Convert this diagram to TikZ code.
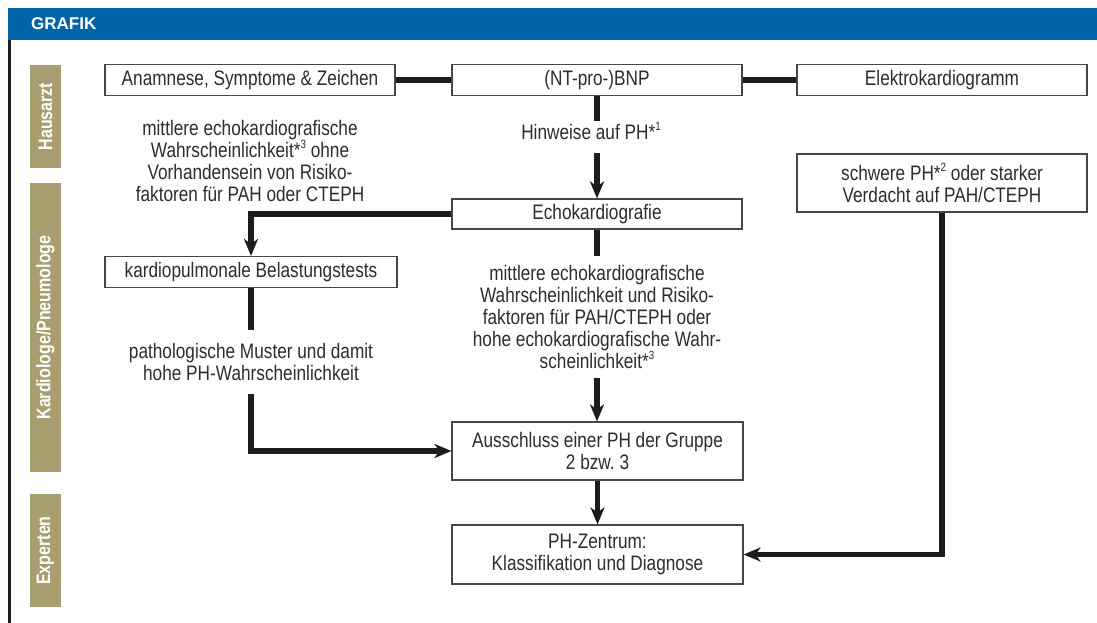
\documentclass[tikz,border=0pt]{standalone}
\usepackage{fontspec}
\setmainfont{Liberation Sans}[FakeStretch=0.82]
\newfontfamily\hdrfont{Liberation Sans}
\usetikzlibrary{arrows.meta}
\definecolor{hdrblue}{RGB}{0,101,168}
\definecolor{sidetan}{RGB}{169,158,111}
\definecolor{txt}{RGB}{45,45,45}
\definecolor{boxline}{RGB}{70,70,70}
\definecolor{connc}{RGB}{28,28,28}
\newcommand\mysup[1]{\raisebox{9pt}{\fontsize{12}{12}\selectfont #1}}
\begin{document}
\begin{tikzpicture}[x=1pt,y=-1pt,
  every node/.style={font=\fontsize{21}{22}\selectfont, text=txt},
  box/.style={draw=boxline, line width=1.1pt, fill=white, align=center, inner sep=0pt},
  conn/.style={draw=connc, line width=5.5pt},
  arr/.style={conn, -{Stealth[length=17pt,width=14pt,inset=5pt]}},
  lbl/.style={align=center, inner xsep=0pt},
  side/.style={fill=sidetan, inner sep=0pt, rotate=90, text=white,
    font=\fontsize{19.5}{19.5}\selectfont\bfseries}
]
\useasboundingbox (0,0) rectangle (1097,623);
\fill[white] (0,0) rectangle (1097,623);
% header
\fill[hdrblue] (8,8) rectangle (1097,40);
\node[anchor=west, text=white, font=\hdrfont\fontsize{17}{17}\selectfont\bfseries, inner sep=0pt] (hdr) at (31,23.5) {GRAFIK};
\draw[connc, line width=2.5pt] (9.7,40) -- (9.7,623);
% side labels
\node[side, minimum width=103pt, minimum height=31pt] (hausarzt) at (45.5,116.5) {Hausarzt};
\node[side, minimum width=289pt, minimum height=31pt] (kardio) at (45.5,327.5) {Kardiologe/Pneumologe};
\node[side, minimum width=113pt, minimum height=31pt] (experten) at (45.5,550.5) {Experten};
% boxes
\node[box, minimum width=290pt, minimum height=31pt] (anam) at (250,80) {Anamnese, Symptome \& Zeichen};
\node[box, minimum width=290pt, minimum height=31pt] (bnp) at (597,80) {(NT-pro-)BNP};
\node[box, minimum width=290pt, minimum height=31pt] (ekg) at (942,80) {Elektrokardiogramm};
\node[box, minimum width=290pt, minimum height=30pt] (echo) at (597,214) {Echokardiografie};
\node[box, minimum width=290pt, minimum height=58pt] (schwere) at (942,183) {schwere PH*\mysup{2} oder starker\\Verdacht auf PAH/CTEPH};
\node[box, minimum width=292pt, minimum height=31pt] (kp) at (251,272) {kardiopulmonale Belastungstests};
\node[box, minimum width=291pt, minimum height=58pt] (aus) at (597.5,451) {Ausschluss einer PH der Gruppe\\2 bzw.\ 3};
\node[box, minimum width=291pt, minimum height=59pt] (zen) at (597.5,554.5) {PH-Zentrum:\\Klassifikation und Diagnose};
% labels
\node[lbl, inner ysep=1pt] (hin) at (591,131) {Hinweise auf PH*\mysup{1}};
\node[lbl] (left) at (250,160.5) {mittlere echokardiografische\\Wahrscheinlichkeit*\mysup{3} ohne\\Vorhandensein von Risiko-\\faktoren f\"ur PAH oder CTEPH};
\node[lbl, inner ysep=9pt] (mid) at (597,317) {mittlere echokardiografische\\Wahrscheinlichkeit und Risiko-\\faktoren f\"ur PAH/CTEPH oder\\hohe echokardiografische Wahr-\\scheinlichkeit*\mysup{3}};
\node[lbl, inner ysep=13pt] (plabel) at (251,362) {pathologische Muster und damit\\hohe PH-Wahrscheinlichkeit};
% connectors
\draw[conn] (anam) -- (bnp);
\draw[conn] (bnp) -- (ekg);
\draw[conn] (bnp.south) -- (bnp.south |- hin.north);
\draw[arr, shorten <=12pt] (bnp.south |- hin.south) -- (echo.north);
\draw[arr] (echo.west) -| (kp.north);
\draw[conn] (echo.south) -- (mid.north);
\draw[arr] (mid.south) -- (mid.south |- aus.north);
\draw[conn] (kp.south) -- (plabel.north);
\draw[arr] (plabel.south) |- (aus.west);
\draw[arr] (aus.south) -- (zen.north);
\draw[arr] (schwere.south) |- (zen.east);
\end{tikzpicture}
\end{document}
